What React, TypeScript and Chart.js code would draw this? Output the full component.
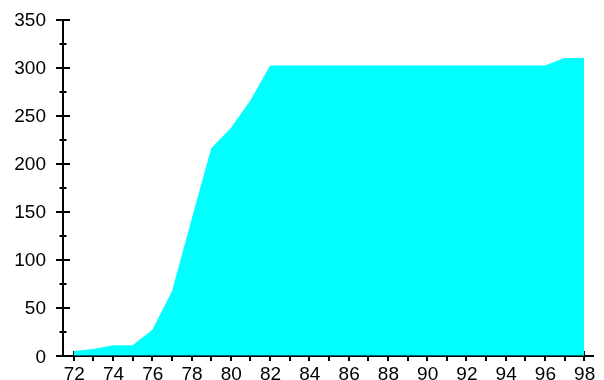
import React, { useEffect, useRef } from "react";
import { Chart, registerables } from "chart.js";

Chart.register(...registerables);

const years = [72, 73, 74, 75, 76, 77, 78, 79, 80, 81, 82, 83, 84, 85, 86, 87, 88, 89, 90, 91, 92, 93, 94, 95, 96, 97, 98];
const values = [5, 7, 11, 11, 27, 67, 142, 216, 237, 266, 302, 302, 302, 302, 302, 302, 302, 302, 302, 302, 302, 302, 302, 302, 302, 310, 310];
const xTickValues = years;
const yTickValues = [0, 25, 50, 75, 100, 125, 150, 175, 200, 225, 250, 275, 300, 325, 350];

const FONT_CSS = "19px 'Liberation Sans', Arial, sans-serif";
const CAP = 13.6;

const axesPlugin = {
  id: "customAxes",
  beforeDatasetsDraw(chart: any) {
    const { ctx, chartArea, scales } = chart;
    const xs = scales.x;
    const ys = scales.y;
    ctx.save();
    ctx.strokeStyle = "#000";
    ctx.lineWidth = 2;
    const ax = Math.round(chartArea.left) - 1;
    const ay = Math.round(ys.getPixelForValue(0));
    // y axis line
    ctx.beginPath();
    ctx.moveTo(ax, Math.round(ys.getPixelForValue(350)));
    ctx.lineTo(ax, ay);
    ctx.stroke();
    // y ticks
    yTickValues.forEach((v) => {
      const py = Math.round(ys.getPixelForValue(v));
      const half = v % 50 === 0 ? 7 : 3.5;
      ctx.beginPath();
      ctx.moveTo(ax - half, py);
      ctx.lineTo(ax + half, py);
      ctx.stroke();
    });
    // x axis line
    ctx.beginPath();
    ctx.moveTo(ax, ay);
    ctx.lineTo(chartArea.right, ay);
    ctx.stroke();
    // x ticks
    xTickValues.forEach((v) => {
      const px = Math.round(xs.getPixelForValue(v));
      ctx.beginPath();
      ctx.moveTo(px, ay - 5);
      ctx.lineTo(px, ay + 5);
      ctx.stroke();
    });
    // labels
    ctx.fillStyle = "#000";
    ctx.font = FONT_CSS;
    ctx.textBaseline = "alphabetic";
    ctx.textAlign = "right";
    yTickValues.forEach((v) => {
      if (v % 50 !== 0) return;
      const py = ys.getPixelForValue(v);
      ctx.fillText(String(v), 46, py + CAP / 2);
    });
    ctx.textAlign = "center";
    xTickValues.forEach((v) => {
      if (v % 2 !== 0) return;
      const px = xs.getPixelForValue(v);
      ctx.fillText(String(v), px + 0.5, ay + 10 + CAP);
    });
    ctx.restore();
  },
};

export default function App() {
  const ref = useRef<HTMLCanvasElement>(null);
  useEffect(() => {
    if (!ref.current) return;
    const chart = new Chart(ref.current, {
      type: "line",
      data: {
        datasets: [
          {
            data: years.map((x, i) => ({ x, y: values[i] })),
            fill: "origin",
            backgroundColor: "#00FFFF",
            borderWidth: 0,
            borderColor: "rgba(0,0,0,0)",
            pointRadius: 0,
            tension: 0,
          },
        ],
      },
      options: {
        animation: false,
        responsive: false,
        devicePixelRatio: 1,
        layout: { padding: { top: 19.5, right: 10, left: 0, bottom: 0 } },
        plugins: { legend: { display: false }, tooltip: { enabled: false } },
        scales: {
          x: {
            type: "linear",
            min: 71.5,
            max: 98.5,
            grid: { display: false },
            border: { display: false },
            ticks: { display: false },
            afterFit: (s: any) => {
              s.height = 24.3;
            },
          },
          y: {
            min: 0,
            max: 350,
            grid: { display: false },
            border: { display: false },
            ticks: { display: false },
            afterFit: (s: any) => {
              s.width = 64;
            },
          },
        },
      },
      plugins: [axesPlugin],
    } as any);
    return () => chart.destroy();
  }, []);
  return (
    <div style={{ position: "fixed", left: 0, top: 0, width: 604, height: 380, background: "#fff" }}>
      <canvas ref={ref} width={604} height={380} />
    </div>
  );
}
